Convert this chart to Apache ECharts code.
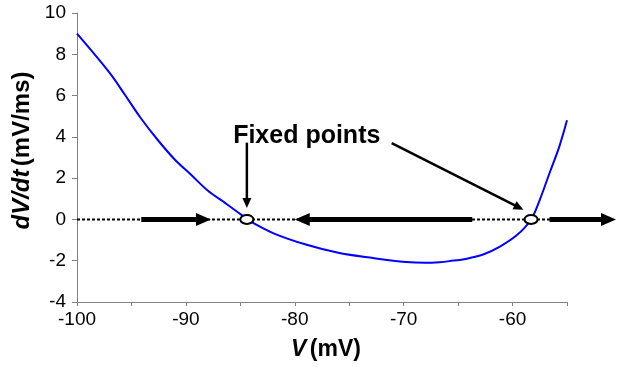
<!DOCTYPE html>
<html>
<head>
<meta charset="utf-8">
<script src="https://cdn.jsdelivr.net/npm/echarts@6/dist/echarts.min.js"></script>
<style>html,body{margin:0;padding:0;background:#fff}#c{width:618px;height:367px}</style>
</head>
<body>
<div id="c"></div>
<script>
// Curve dV/dt vs V
const curveV = [-100, -97.0, -95.6, -94.2, -92.6, -91.0, -89.5, -88.0, -86.4, -84.9, -84.4, -82.0, -78.9, -75.9, -72.8, -69.8, -68.0, -66.7, -65.8, -64.2, -62.7, -61.2, -59.6, -58.3, -57.5, -56.6, -55.7, -55.0];
const curveDVdt = [9.0, 7.1, 6.04, 4.95, 3.86, 2.89, 2.15, 1.4, 0.8, 0.22, 0.0, -0.66, -1.23, -1.63, -1.87, -2.06, -2.1, -2.07, -2.02, -1.9, -1.7, -1.33, -0.76, 0.0, 0.95, 2.25, 3.54, 4.8];
// zero line
const zeroLineV = [-100, -55];
// fixed points
const fixedPointsV = [-84.4, -58.3];
// flow arrows on V axis [fromV, toV]
const flowArrows = [[-94.1, -87.7], [-63.7, -80.0], [-56.6, -50.5]];
// annotation pointers [fromV, fromY, toV, toY]
const pointerArrows = [[-84.4, 3.72, -84.4, 0.55], [-71.1, 3.70, -59.0, 0.47]];
const annotationText = 'Fixed points';
const annotationPos = [-78.9, 4.02];
// axis ticks
const xMin = -100, xMax = -55, xStep = 5;
const yMin = -4, yMax = 10, yStep = 2;

const FONT = 'Arial, "Liberation Sans", sans-serif';

function arrowShape(api, w, hl, hw) {
  const p1 = api.coord([api.value(0), api.value(1)]);
  const p2 = api.coord([api.value(2), api.value(3)]);
  const dx = p2[0] - p1[0], dy = p2[1] - p1[1];
  const L = Math.hypot(dx, dy), ux = dx / L, uy = dy / L;
  const bx = p2[0] - ux * hl, by = p2[1] - uy * hl;
  const nx = -uy, ny = ux;
  return {
    type: 'group',
    children: [
      {type: 'line', shape: {x1: p1[0], y1: p1[1], x2: bx + ux, y2: by + uy}, style: {stroke: '#000', lineWidth: w}},
      {type: 'polygon', shape: {points: [[p2[0], p2[1]], [bx + nx * hw / 2, by + ny * hw / 2], [bx - nx * hw / 2, by - ny * hw / 2]]}, style: {fill: '#000'}}
    ]
  };
}

const chart = echarts.init(document.getElementById('c'), null, {renderer: 'canvas'});
chart.setOption({
  animation: false,
  backgroundColor: '#fff',
  grid: {left: 77, top: 13, right: 51, bottom: 65, containLabel: false},
  xAxis: {
    type: 'value', min: xMin, max: xMax, interval: xStep,
    axisLine: {onZero: false, lineStyle: {color: '#808080', width: 1}},
    axisTick: {show: true, length: 4, lineStyle: {color: '#808080'}},
    splitLine: {show: false},
    axisLabel: {color: '#000', fontFamily: FONT, fontSize: 19, margin: 8,
      formatter: v => (Math.round(v) % 10 === 0 ? String(v) : '')},
    name: '{i|V} {b|(mV)}', nameLocation: 'middle', nameGap: 36,
    nameTextStyle: {padding: [0, 0, 0, 8], rich: {
      i: {fontFamily: FONT, fontSize: 23, fontWeight: 'bold', fontStyle: 'italic', color: '#000'},
      b: {fontFamily: FONT, fontSize: 23, fontWeight: 'bold', color: '#000'}
    }}
  },
  yAxis: {
    type: 'value', min: yMin, max: yMax, interval: yStep,
    axisLine: {show: true, onZero: false, lineStyle: {color: '#808080', width: 1}},
    axisTick: {show: true, length: 5, lineStyle: {color: '#808080'}},
    splitLine: {show: false},
    axisLabel: {color: '#000', fontFamily: FONT, fontSize: 19, margin: 11},
    name: '{i|dV/dt} {b|(mV/ms)}', nameLocation: 'middle', nameGap: 38, nameRotate: 90,
    nameTextStyle: {padding: [0, 0, 0, 14], rich: {
      i: {fontFamily: FONT, fontSize: 24, fontWeight: 'bold', fontStyle: 'italic', color: '#000'},
      b: {fontFamily: FONT, fontSize: 24, fontWeight: 'bold', color: '#000'}
    }}
  },
  series: [
    {
      type: 'line', data: curveV.map((v, i) => [v, curveDVdt[i]]),
      showSymbol: false, smooth: 0.35, lineStyle: {color: '#0000ff', width: 2}, z: 2
    },
    {
      type: 'line', data: zeroLineV.map(v => [v, 0]), showSymbol: false,
      lineStyle: {color: '#000', width: 2, type: [3, 2]}, z: 3
    },
    {
      type: 'custom', z: 4, clip: false,
      data: flowArrows.map(a => [a[0], 0, a[1], 0]),
      encode: {x: [0, 2], y: [1, 3]},
      renderItem: (params, api) => arrowShape(api, 5, 15, 13)
    },
    {
      type: 'custom', z: 4, clip: false,
      data: pointerArrows,
      encode: {x: [0, 2], y: [1, 3]},
      renderItem: (params, api) => arrowShape(api, 2.5, 10, 9)
    },
    {
      type: 'custom', z: 5, clip: false,
      data: fixedPointsV.map(v => [v, 0]),
      encode: {x: 0, y: 1},
      renderItem: (params, api) => {
        const p = api.coord([api.value(0), api.value(1)]);
        return {type: 'ellipse', shape: {cx: p[0], cy: p[1], rx: 6.5, ry: 4.5},
          style: {fill: '#fff', stroke: '#000', lineWidth: 2}};
      }
    },
    {
      type: 'custom', z: 5, clip: false,
      data: [annotationPos],
      encode: {x: 0, y: 1},
      renderItem: (params, api) => {
        const p = api.coord([api.value(0), api.value(1)]);
        return {type: 'text', x: p[0], y: p[1],
          style: {text: annotationText, fontFamily: FONT, fontSize: 25, fontWeight: 'bold',
            fill: '#000', align: 'center', verticalAlign: 'middle'}};
      }
    }
  ]
});
</script>
</body>
</html>
